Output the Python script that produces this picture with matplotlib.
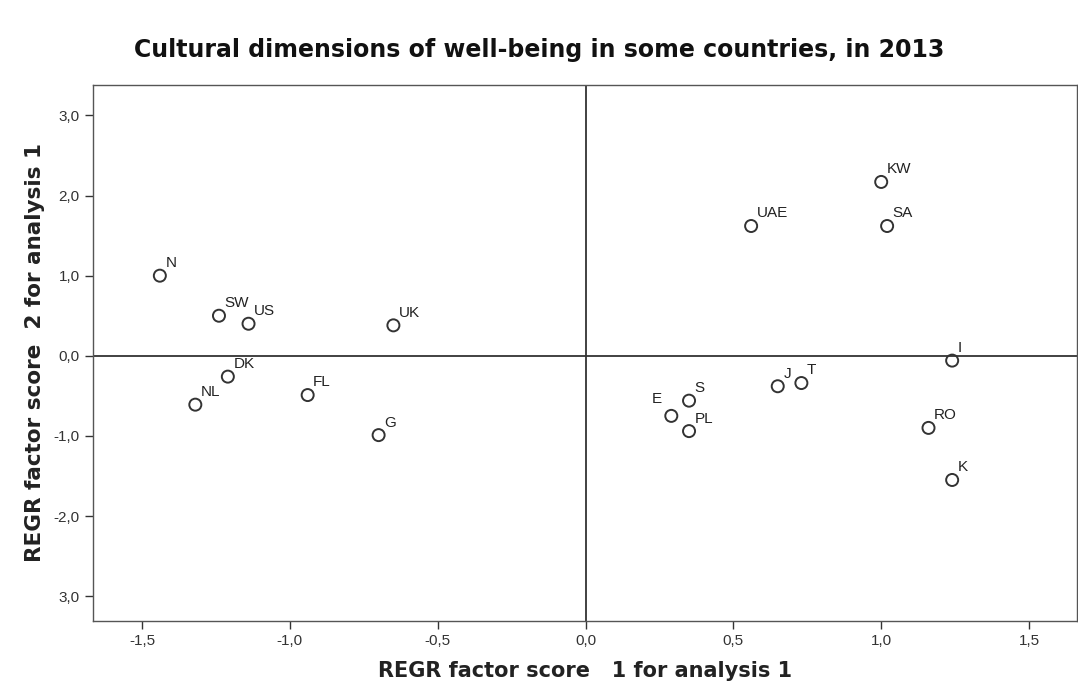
import matplotlib
matplotlib.use("Agg")
import matplotlib.pyplot as plt

plt.rcParams['font.family'] = ['Liberation Sans', 'DejaVu Sans']

# factor scores
countries = ['N', 'SW', 'US', 'UK', 'DK', 'NL', 'FL', 'G',
             'UAE', 'KW', 'SA', 'E', 'S', 'PL', 'J', 'T', 'I', 'RO', 'K']
factor1 = [-1.44, -1.24, -1.14, -0.65, -1.21, -1.32, -0.94, -0.70,
           0.56, 1.00, 1.02, 0.29, 0.35, 0.35, 0.65, 0.73, 1.24, 1.16, 1.24]
factor2 = [1.00, 0.50, 0.40, 0.38, -0.26, -0.61, -0.49, -0.99,
           1.62, 2.17, 1.62, -0.75, -0.56, -0.94, -0.38, -0.34, -0.06, -0.90, -1.55]

x_ticks = [-1.5, -1.0, -0.5, 0.0, 0.5, 1.0, 1.5]
x_tick_labels = ['-1,5', '-1,0', '-0,5', '0,0', '0,5', '1,0', '1,5']
y_ticks = [3.0, 2.0, 1.0, 0.0, -1.0, -2.0, -3.0]
y_tick_labels = ['3,0', '2,0', '1,0', '0,0', '-1,0', '-2,0', '3,0']

fig = plt.figure(figsize=(10.78, 6.95), dpi=100)
ax = fig.add_axes([0.0863, 0.1065, 0.9127, 0.7712])

ax.axhline(0, color='#333333', lw=1.3, zorder=1)
ax.axvline(0, color='#333333', lw=1.3, zorder=1)

ax.scatter(factor1, factor2, s=75, facecolors='none', edgecolors='#333333',
           linewidths=1.4, zorder=3)

for name, x, y in zip(countries, factor1, factor2):
    offset = (4, 4)
    if name == 'E':
        offset = (-14, 7)
    ax.annotate(name, (x, y), xytext=offset, textcoords='offset points',
                fontsize=11, color='#222222', ha='left', va='bottom')

ax.set_xlim(-1.666, 1.662)
ax.set_ylim(-3.31, 3.38)
ax.set_xticks(x_ticks)
ax.set_xticklabels(x_tick_labels)
ax.set_yticks(y_ticks)
ax.set_yticklabels(y_tick_labels)
ax.tick_params(direction='out', length=6, width=1, labelsize=11,
               colors='#333333')

for sp in ax.spines.values():
    sp.set_color('#555555')
    sp.set_linewidth(1)

ax.set_xlabel('REGR factor score   1 for analysis 1', fontsize=15,
              fontweight='bold', color='#222222', labelpad=9,
              family='DejaVu Sans')
ax.set_ylabel('REGR factor score  2 for analysis 1', fontsize=15.5,
              fontweight='bold', color='#222222', labelpad=6,
              family='DejaVu Sans')

fig.text(0.5, 0.928, 'Cultural dimensions of well-being in some countries, in 2013',
         ha='center', va='center', fontsize=17, fontweight='bold',
         color='#111111', family='DejaVu Sans')

fig.savefig('out.png', dpi=100, facecolor='white')
